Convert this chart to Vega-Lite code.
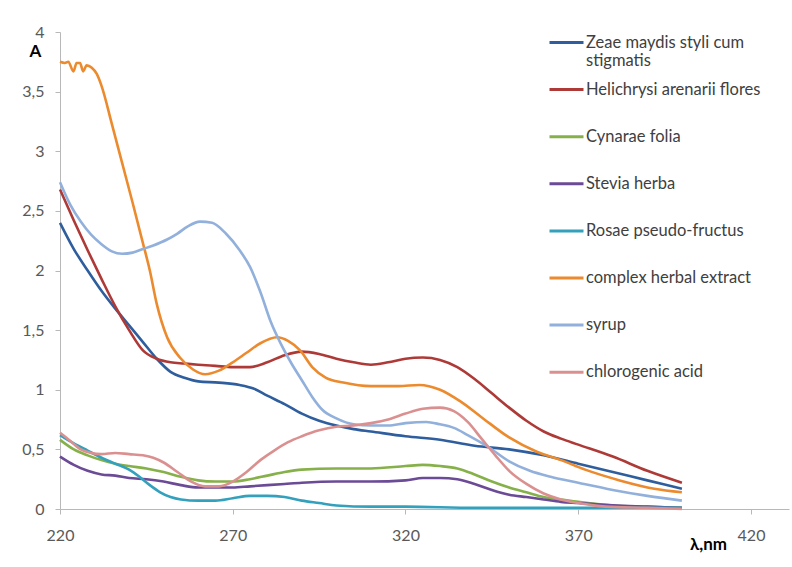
{
  "$schema": "https://vega.github.io/schema/vega-lite/v6.json",
  "width": 729,
  "height": 477,
  "autosize": {"type": "none"},
  "padding": {"left": 60, "top": 32, "right": 3, "bottom": 58},
  "background": "white",
  "config": {
    "view": {"stroke": null},
    "font": "Lato"
  },
  "data": {"values": [
    {"series":"Zeae maydis styli cum stigmatis","nm":220,"A":2.40},
    {"series":"Zeae maydis styli cum stigmatis","nm":224,"A":2.18},
    {"series":"Zeae maydis styli cum stigmatis","nm":228,"A":2.00},
    {"series":"Zeae maydis styli cum stigmatis","nm":232,"A":1.83},
    {"series":"Zeae maydis styli cum stigmatis","nm":236,"A":1.68},
    {"series":"Zeae maydis styli cum stigmatis","nm":240,"A":1.54},
    {"series":"Zeae maydis styli cum stigmatis","nm":244,"A":1.40},
    {"series":"Zeae maydis styli cum stigmatis","nm":248,"A":1.26},
    {"series":"Zeae maydis styli cum stigmatis","nm":252,"A":1.15},
    {"series":"Zeae maydis styli cum stigmatis","nm":256,"A":1.10},
    {"series":"Zeae maydis styli cum stigmatis","nm":260,"A":1.07},
    {"series":"Zeae maydis styli cum stigmatis","nm":266,"A":1.06},
    {"series":"Zeae maydis styli cum stigmatis","nm":272,"A":1.04},
    {"series":"Zeae maydis styli cum stigmatis","nm":276,"A":1.01},
    {"series":"Zeae maydis styli cum stigmatis","nm":280,"A":0.95},
    {"series":"Zeae maydis styli cum stigmatis","nm":285,"A":0.88},
    {"series":"Zeae maydis styli cum stigmatis","nm":290,"A":0.80},
    {"series":"Zeae maydis styli cum stigmatis","nm":295,"A":0.74},
    {"series":"Zeae maydis styli cum stigmatis","nm":300,"A":0.70},
    {"series":"Zeae maydis styli cum stigmatis","nm":305,"A":0.67},
    {"series":"Zeae maydis styli cum stigmatis","nm":310,"A":0.65},
    {"series":"Zeae maydis styli cum stigmatis","nm":320,"A":0.61},
    {"series":"Zeae maydis styli cum stigmatis","nm":330,"A":0.58},
    {"series":"Zeae maydis styli cum stigmatis","nm":340,"A":0.53},
    {"series":"Zeae maydis styli cum stigmatis","nm":350,"A":0.50},
    {"series":"Zeae maydis styli cum stigmatis","nm":360,"A":0.45},
    {"series":"Zeae maydis styli cum stigmatis","nm":370,"A":0.38},
    {"series":"Zeae maydis styli cum stigmatis","nm":380,"A":0.31},
    {"series":"Zeae maydis styli cum stigmatis","nm":390,"A":0.24},
    {"series":"Zeae maydis styli cum stigmatis","nm":400,"A":0.17},

    {"series":"Helichrysi arenarii flores","nm":220,"A":2.68},
    {"series":"Helichrysi arenarii flores","nm":224,"A":2.42},
    {"series":"Helichrysi arenarii flores","nm":228,"A":2.17},
    {"series":"Helichrysi arenarii flores","nm":232,"A":1.93},
    {"series":"Helichrysi arenarii flores","nm":236,"A":1.70},
    {"series":"Helichrysi arenarii flores","nm":240,"A":1.50},
    {"series":"Helichrysi arenarii flores","nm":244,"A":1.33},
    {"series":"Helichrysi arenarii flores","nm":248,"A":1.26},
    {"series":"Helichrysi arenarii flores","nm":252,"A":1.23},
    {"series":"Helichrysi arenarii flores","nm":256,"A":1.22},
    {"series":"Helichrysi arenarii flores","nm":260,"A":1.21},
    {"series":"Helichrysi arenarii flores","nm":265,"A":1.20},
    {"series":"Helichrysi arenarii flores","nm":270,"A":1.19},
    {"series":"Helichrysi arenarii flores","nm":275,"A":1.19},
    {"series":"Helichrysi arenarii flores","nm":280,"A":1.23},
    {"series":"Helichrysi arenarii flores","nm":285,"A":1.29},
    {"series":"Helichrysi arenarii flores","nm":290,"A":1.32},
    {"series":"Helichrysi arenarii flores","nm":295,"A":1.30},
    {"series":"Helichrysi arenarii flores","nm":300,"A":1.26},
    {"series":"Helichrysi arenarii flores","nm":305,"A":1.23},
    {"series":"Helichrysi arenarii flores","nm":310,"A":1.21},
    {"series":"Helichrysi arenarii flores","nm":315,"A":1.23},
    {"series":"Helichrysi arenarii flores","nm":320,"A":1.26},
    {"series":"Helichrysi arenarii flores","nm":325,"A":1.27},
    {"series":"Helichrysi arenarii flores","nm":330,"A":1.25},
    {"series":"Helichrysi arenarii flores","nm":335,"A":1.19},
    {"series":"Helichrysi arenarii flores","nm":340,"A":1.09},
    {"series":"Helichrysi arenarii flores","nm":345,"A":0.97},
    {"series":"Helichrysi arenarii flores","nm":350,"A":0.85},
    {"series":"Helichrysi arenarii flores","nm":355,"A":0.74},
    {"series":"Helichrysi arenarii flores","nm":360,"A":0.65},
    {"series":"Helichrysi arenarii flores","nm":365,"A":0.59},
    {"series":"Helichrysi arenarii flores","nm":370,"A":0.54},
    {"series":"Helichrysi arenarii flores","nm":380,"A":0.44},
    {"series":"Helichrysi arenarii flores","nm":390,"A":0.32},
    {"series":"Helichrysi arenarii flores","nm":400,"A":0.22},

    {"series":"Cynarae folia","nm":220,"A":0.58},
    {"series":"Cynarae folia","nm":224,"A":0.50},
    {"series":"Cynarae folia","nm":228,"A":0.45},
    {"series":"Cynarae folia","nm":232,"A":0.41},
    {"series":"Cynarae folia","nm":236,"A":0.38},
    {"series":"Cynarae folia","nm":240,"A":0.36},
    {"series":"Cynarae folia","nm":245,"A":0.34},
    {"series":"Cynarae folia","nm":250,"A":0.31},
    {"series":"Cynarae folia","nm":255,"A":0.27},
    {"series":"Cynarae folia","nm":260,"A":0.24},
    {"series":"Cynarae folia","nm":265,"A":0.23},
    {"series":"Cynarae folia","nm":270,"A":0.23},
    {"series":"Cynarae folia","nm":275,"A":0.25},
    {"series":"Cynarae folia","nm":280,"A":0.28},
    {"series":"Cynarae folia","nm":285,"A":0.31},
    {"series":"Cynarae folia","nm":290,"A":0.33},
    {"series":"Cynarae folia","nm":300,"A":0.34},
    {"series":"Cynarae folia","nm":310,"A":0.34},
    {"series":"Cynarae folia","nm":320,"A":0.36},
    {"series":"Cynarae folia","nm":325,"A":0.37},
    {"series":"Cynarae folia","nm":330,"A":0.36},
    {"series":"Cynarae folia","nm":335,"A":0.34},
    {"series":"Cynarae folia","nm":340,"A":0.29},
    {"series":"Cynarae folia","nm":345,"A":0.23},
    {"series":"Cynarae folia","nm":350,"A":0.18},
    {"series":"Cynarae folia","nm":355,"A":0.14},
    {"series":"Cynarae folia","nm":360,"A":0.10},
    {"series":"Cynarae folia","nm":365,"A":0.08},
    {"series":"Cynarae folia","nm":370,"A":0.06},
    {"series":"Cynarae folia","nm":380,"A":0.03},
    {"series":"Cynarae folia","nm":390,"A":0.02},
    {"series":"Cynarae folia","nm":400,"A":0.01},

    {"series":"Stevia herba","nm":220,"A":0.44},
    {"series":"Stevia herba","nm":224,"A":0.37},
    {"series":"Stevia herba","nm":228,"A":0.32},
    {"series":"Stevia herba","nm":232,"A":0.29},
    {"series":"Stevia herba","nm":236,"A":0.28},
    {"series":"Stevia herba","nm":240,"A":0.26},
    {"series":"Stevia herba","nm":245,"A":0.25},
    {"series":"Stevia herba","nm":250,"A":0.23},
    {"series":"Stevia herba","nm":255,"A":0.20},
    {"series":"Stevia herba","nm":260,"A":0.18},
    {"series":"Stevia herba","nm":265,"A":0.18},
    {"series":"Stevia herba","nm":270,"A":0.18},
    {"series":"Stevia herba","nm":275,"A":0.19},
    {"series":"Stevia herba","nm":280,"A":0.20},
    {"series":"Stevia herba","nm":285,"A":0.21},
    {"series":"Stevia herba","nm":290,"A":0.22},
    {"series":"Stevia herba","nm":300,"A":0.23},
    {"series":"Stevia herba","nm":310,"A":0.23},
    {"series":"Stevia herba","nm":320,"A":0.24},
    {"series":"Stevia herba","nm":325,"A":0.26},
    {"series":"Stevia herba","nm":330,"A":0.26},
    {"series":"Stevia herba","nm":335,"A":0.25},
    {"series":"Stevia herba","nm":340,"A":0.21},
    {"series":"Stevia herba","nm":345,"A":0.16},
    {"series":"Stevia herba","nm":350,"A":0.12},
    {"series":"Stevia herba","nm":355,"A":0.10},
    {"series":"Stevia herba","nm":360,"A":0.08},
    {"series":"Stevia herba","nm":365,"A":0.06},
    {"series":"Stevia herba","nm":370,"A":0.05},
    {"series":"Stevia herba","nm":380,"A":0.03},
    {"series":"Stevia herba","nm":390,"A":0.02},
    {"series":"Stevia herba","nm":400,"A":0.01},

    {"series":"Rosae pseudo-fructus","nm":220,"A":0.62},
    {"series":"Rosae pseudo-fructus","nm":224,"A":0.55},
    {"series":"Rosae pseudo-fructus","nm":228,"A":0.49},
    {"series":"Rosae pseudo-fructus","nm":232,"A":0.43},
    {"series":"Rosae pseudo-fructus","nm":236,"A":0.38},
    {"series":"Rosae pseudo-fructus","nm":240,"A":0.33},
    {"series":"Rosae pseudo-fructus","nm":243,"A":0.27},
    {"series":"Rosae pseudo-fructus","nm":246,"A":0.20},
    {"series":"Rosae pseudo-fructus","nm":249,"A":0.14},
    {"series":"Rosae pseudo-fructus","nm":252,"A":0.10},
    {"series":"Rosae pseudo-fructus","nm":255,"A":0.08},
    {"series":"Rosae pseudo-fructus","nm":260,"A":0.07},
    {"series":"Rosae pseudo-fructus","nm":265,"A":0.07},
    {"series":"Rosae pseudo-fructus","nm":270,"A":0.09},
    {"series":"Rosae pseudo-fructus","nm":275,"A":0.11},
    {"series":"Rosae pseudo-fructus","nm":280,"A":0.11},
    {"series":"Rosae pseudo-fructus","nm":285,"A":0.10},
    {"series":"Rosae pseudo-fructus","nm":290,"A":0.07},
    {"series":"Rosae pseudo-fructus","nm":295,"A":0.05},
    {"series":"Rosae pseudo-fructus","nm":300,"A":0.03},
    {"series":"Rosae pseudo-fructus","nm":310,"A":0.02},
    {"series":"Rosae pseudo-fructus","nm":320,"A":0.02},
    {"series":"Rosae pseudo-fructus","nm":340,"A":0.01},
    {"series":"Rosae pseudo-fructus","nm":360,"A":0.01},
    {"series":"Rosae pseudo-fructus","nm":400,"A":0.01},

    {"series":"complex herbal extract","nm":220,"A":3.75},
    {"series":"complex herbal extract","nm":221.4,"A":3.74},
    {"series":"complex herbal extract","nm":222.4,"A":3.75},
    {"series":"complex herbal extract","nm":223.9,"A":3.67},
    {"series":"complex herbal extract","nm":224.8,"A":3.74},
    {"series":"complex herbal extract","nm":225.8,"A":3.74},
    {"series":"complex herbal extract","nm":226.7,"A":3.67},
    {"series":"complex herbal extract","nm":227.7,"A":3.72},
    {"series":"complex herbal extract","nm":229.2,"A":3.70},
    {"series":"complex herbal extract","nm":230.6,"A":3.65},
    {"series":"complex herbal extract","nm":232,"A":3.55},
    {"series":"complex herbal extract","nm":235,"A":3.23},
    {"series":"complex herbal extract","nm":238,"A":2.90},
    {"series":"complex herbal extract","nm":241,"A":2.57},
    {"series":"complex herbal extract","nm":244,"A":2.23},
    {"series":"complex herbal extract","nm":246,"A":2.00},
    {"series":"complex herbal extract","nm":248,"A":1.72},
    {"series":"complex herbal extract","nm":251,"A":1.44},
    {"series":"complex herbal extract","nm":254.7,"A":1.27},
    {"series":"complex herbal extract","nm":258.5,"A":1.17},
    {"series":"complex herbal extract","nm":262,"A":1.13},
    {"series":"complex herbal extract","nm":266,"A":1.16},
    {"series":"complex herbal extract","nm":270,"A":1.23},
    {"series":"complex herbal extract","nm":274,"A":1.31},
    {"series":"complex herbal extract","nm":278,"A":1.39},
    {"series":"complex herbal extract","nm":282.8,"A":1.44},
    {"series":"complex herbal extract","nm":286,"A":1.41},
    {"series":"complex herbal extract","nm":289.5,"A":1.33},
    {"series":"complex herbal extract","nm":293,"A":1.19},
    {"series":"complex herbal extract","nm":297,"A":1.10},
    {"series":"complex herbal extract","nm":302,"A":1.06},
    {"series":"complex herbal extract","nm":310,"A":1.03},
    {"series":"complex herbal extract","nm":318,"A":1.03},
    {"series":"complex herbal extract","nm":324,"A":1.04},
    {"series":"complex herbal extract","nm":330,"A":1.00},
    {"series":"complex herbal extract","nm":336,"A":0.90},
    {"series":"complex herbal extract","nm":342,"A":0.77},
    {"series":"complex herbal extract","nm":350,"A":0.60},
    {"series":"complex herbal extract","nm":358,"A":0.48},
    {"series":"complex herbal extract","nm":365,"A":0.41},
    {"series":"complex herbal extract","nm":372,"A":0.33},
    {"series":"complex herbal extract","nm":382,"A":0.24},
    {"series":"complex herbal extract","nm":392,"A":0.17},
    {"series":"complex herbal extract","nm":400,"A":0.14},

    {"series":"syrup","nm":220,"A":2.74},
    {"series":"syrup","nm":223,"A":2.55},
    {"series":"syrup","nm":226,"A":2.41},
    {"series":"syrup","nm":229,"A":2.30},
    {"series":"syrup","nm":232,"A":2.22},
    {"series":"syrup","nm":235,"A":2.16},
    {"series":"syrup","nm":238,"A":2.14},
    {"series":"syrup","nm":241,"A":2.15},
    {"series":"syrup","nm":244,"A":2.18},
    {"series":"syrup","nm":247,"A":2.21},
    {"series":"syrup","nm":251,"A":2.26},
    {"series":"syrup","nm":254,"A":2.31},
    {"series":"syrup","nm":257,"A":2.37},
    {"series":"syrup","nm":260.5,"A":2.41},
    {"series":"syrup","nm":264,"A":2.40},
    {"series":"syrup","nm":268,"A":2.31},
    {"series":"syrup","nm":272,"A":2.17},
    {"series":"syrup","nm":275,"A":2.03},
    {"series":"syrup","nm":278,"A":1.82},
    {"series":"syrup","nm":281,"A":1.57},
    {"series":"syrup","nm":284,"A":1.38},
    {"series":"syrup","nm":287,"A":1.22},
    {"series":"syrup","nm":290,"A":1.08},
    {"series":"syrup","nm":293,"A":0.94},
    {"series":"syrup","nm":296,"A":0.83},
    {"series":"syrup","nm":300,"A":0.76},
    {"series":"syrup","nm":305,"A":0.71},
    {"series":"syrup","nm":310,"A":0.70},
    {"series":"syrup","nm":315,"A":0.70},
    {"series":"syrup","nm":320,"A":0.72},
    {"series":"syrup","nm":326,"A":0.73},
    {"series":"syrup","nm":330,"A":0.71},
    {"series":"syrup","nm":334,"A":0.68},
    {"series":"syrup","nm":338,"A":0.62},
    {"series":"syrup","nm":344,"A":0.52},
    {"series":"syrup","nm":350,"A":0.40},
    {"series":"syrup","nm":356,"A":0.32},
    {"series":"syrup","nm":362,"A":0.27},
    {"series":"syrup","nm":370,"A":0.22},
    {"series":"syrup","nm":380,"A":0.16},
    {"series":"syrup","nm":390,"A":0.11},
    {"series":"syrup","nm":400,"A":0.07},

    {"series":"chlorogenic acid","nm":220,"A":0.64},
    {"series":"chlorogenic acid","nm":223,"A":0.57},
    {"series":"chlorogenic acid","nm":226,"A":0.50},
    {"series":"chlorogenic acid","nm":229,"A":0.47},
    {"series":"chlorogenic acid","nm":232,"A":0.46},
    {"series":"chlorogenic acid","nm":236,"A":0.47},
    {"series":"chlorogenic acid","nm":240,"A":0.46},
    {"series":"chlorogenic acid","nm":244,"A":0.45},
    {"series":"chlorogenic acid","nm":247,"A":0.43},
    {"series":"chlorogenic acid","nm":250,"A":0.39},
    {"series":"chlorogenic acid","nm":254,"A":0.31},
    {"series":"chlorogenic acid","nm":258,"A":0.23},
    {"series":"chlorogenic acid","nm":262,"A":0.19},
    {"series":"chlorogenic acid","nm":266,"A":0.19},
    {"series":"chlorogenic acid","nm":270,"A":0.23},
    {"series":"chlorogenic acid","nm":274,"A":0.31},
    {"series":"chlorogenic acid","nm":278,"A":0.41},
    {"series":"chlorogenic acid","nm":282,"A":0.49},
    {"series":"chlorogenic acid","nm":286,"A":0.56},
    {"series":"chlorogenic acid","nm":290,"A":0.61},
    {"series":"chlorogenic acid","nm":295,"A":0.66},
    {"series":"chlorogenic acid","nm":300,"A":0.69},
    {"series":"chlorogenic acid","nm":305,"A":0.70},
    {"series":"chlorogenic acid","nm":310,"A":0.72},
    {"series":"chlorogenic acid","nm":315,"A":0.75},
    {"series":"chlorogenic acid","nm":320,"A":0.80},
    {"series":"chlorogenic acid","nm":325,"A":0.84},
    {"series":"chlorogenic acid","nm":330,"A":0.85},
    {"series":"chlorogenic acid","nm":334,"A":0.82},
    {"series":"chlorogenic acid","nm":338,"A":0.73},
    {"series":"chlorogenic acid","nm":342,"A":0.59},
    {"series":"chlorogenic acid","nm":346,"A":0.45},
    {"series":"chlorogenic acid","nm":350,"A":0.32},
    {"series":"chlorogenic acid","nm":355,"A":0.21},
    {"series":"chlorogenic acid","nm":360,"A":0.13},
    {"series":"chlorogenic acid","nm":365,"A":0.08},
    {"series":"chlorogenic acid","nm":370,"A":0.05},
    {"series":"chlorogenic acid","nm":378,"A":0.02},
    {"series":"chlorogenic acid","nm":390,"A":0.01},
    {"series":"chlorogenic acid","nm":400,"A":0.00}
  ]},
  "mark": {"type": "line", "strokeWidth": 2.6, "interpolate": "monotone"},
  "encoding": {
    "x": {
      "field": "nm", "type": "quantitative",
      "scale": {"domain": [220, 431], "nice": false, "zero": false},
      "axis": {
        "values": [220, 270, 320, 370, 420],
        "grid": false,
        "labelFlush": false,
        "domainColor": "#b8b8b8", "tickColor": "#b8b8b8", "tickSize": 5,
        "labelFont": "Lato", "labelFontSize": 16, "labelColor": "#595959",
        "labelPadding": 13,
        "title": "λ,nm", "titleFont": "Lato", "titleFontSize": 17, "titleFontWeight": "bold", "titleColor": "#000000",
        "titleX": 648, "titleY": 35, "titleAlign": "center", "titleBaseline": "middle"
      }
    },
    "y": {
      "field": "A", "type": "quantitative",
      "scale": {"domain": [0, 4], "nice": false},
      "axis": {
        "values": [0, 0.5, 1, 1.5, 2, 2.5, 3, 3.5, 4],
        "labelExpr": "replace(format(datum.value, ''), '.', ',')",
        "grid": false,
        "labelFlush": false,
        "domainColor": "#b8b8b8", "tickColor": "#b8b8b8", "tickSize": 5,
        "labelFont": "Lato", "labelFontSize": 16, "labelColor": "#595959",
        "labelPadding": 11,
        "title": "A", "titleAngle": 0, "titleFont": "Lato", "titleFontSize": 17, "titleFontWeight": "bold", "titleColor": "#000000",
        "titleX": -25, "titleY": 19, "titleAlign": "center", "titleBaseline": "middle"
      }
    },
    "color": {
      "field": "series", "type": "nominal",
      "sort": null,
      "scale": {
        "domain": ["Zeae maydis styli cum stigmatis", "Helichrysi arenarii flores", "Cynarae folia", "Stevia herba", "Rosae pseudo-fructus", "complex herbal extract", "syrup", "chlorogenic acid"],
        "range": ["#2f5e9e", "#ae3a38", "#86b049", "#6b4a96", "#33a0bc", "#ec8a2e", "#92b0dc", "#db9090"]
      },
      "legend": {
        "orient": "none",
        "legendX": 488,
        "legendY": -8,
        "title": null,
        "symbolType": "stroke",
        "symbolSize": 1156,
        "symbolStrokeWidth": 3,
        "labelFont": "Lato",
        "labelFontSize": 16.5,
        "labelColor": "#404040",
        "labelOffset": 1,
        "labelLimit": 300,
        "gridAlign": "all",
        "rowPadding": 1.1,
        "labelExpr": "datum.label == 'Zeae maydis styli cum stigmatis' ? ['Zeae maydis styli cum', 'stigmatis'] : datum.label"
      }
    }
  }
}
